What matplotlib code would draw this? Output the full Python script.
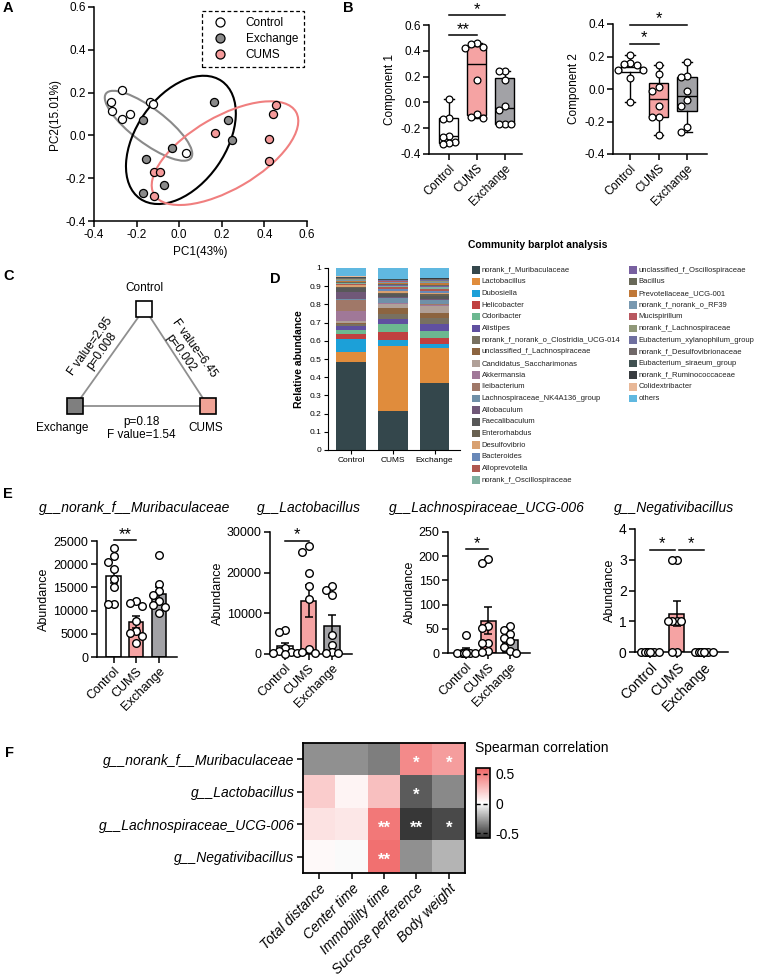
import numpy as np
import matplotlib
matplotlib.use("Agg")
import matplotlib.pyplot as plt
from matplotlib.patches import Ellipse, Rectangle
from matplotlib.lines import Line2D
from matplotlib.colors import LinearSegmentedColormap
from matplotlib.ticker import FormatStrFormatter

plt.rcParams['font.family'] = ['Liberation Sans', 'DejaVu Sans']
plt.rcParams['axes.unicode_minus'] = False

# =====================
# 数据
# =====================
groups = ["Control", "CUMS", "Exchange"]
group_colors = ["white", "#f5a3a3", "#a2a2a6"]

# A: PCA
pca_ctrl_x = [-0.268, -0.318, -0.315, -0.268, -0.229, -0.135, -0.125, 0.03]
pca_ctrl_y = [0.21, 0.155, 0.115, 0.076, 0.10, 0.155, 0.146, -0.08]
pca_exch_x = [-0.172, -0.033, -0.154, -0.072, -0.169, 0.164, 0.228, 0.247]
pca_exch_y = [0.07, -0.057, -0.11, -0.233, -0.267, 0.157, 0.07, -0.021]
pca_cums_x = [-0.119, -0.091, -0.117, 0.168, 0.454, 0.44, 0.42, 0.42]
pca_cums_y = [-0.17, -0.172, -0.283, 0.013, 0.14, 0.10, -0.018, -0.119]
# 椭圆: 中心x, 中心y, 宽, 高, 角度
ell_ctrl = [-0.144, 0.045, 0.50, 0.16, -37]
ell_exch = [0.008, -0.021, 0.67, 0.42, 55]
ell_cums = [0.215, -0.083, 0.77, 0.34, 30]

# B: component 1 / 2
comp1_ctrl = [0.03, -0.12, -0.125, -0.26, -0.265, -0.31, -0.315, -0.32]
comp1_cums = [0.46, 0.45, 0.43, 0.42, 0.17, -0.09, -0.11, -0.12]
comp1_exch = [0.245, 0.24, 0.17, -0.03, -0.06, -0.165, -0.17, -0.17]
comp2_ctrl = [0.21, 0.16, 0.155, 0.15, 0.12, 0.12, 0.07, -0.08]
comp2_cums = [0.145, 0.095, 0.015, -0.015, -0.105, -0.17, -0.175, -0.28]
comp2_exch = [0.165, 0.08, 0.075, -0.015, -0.065, -0.105, -0.235, -0.265]

# C: anosim
anosim_left = ["F value=2.95", "p=0.008"]
anosim_right = ["F value=6.45", "p=0.002"]
anosim_bottom = ["p=0.18", "F value=1.54"]

# D: community barplot
taxa = ["norank_f_Muribaculaceae", "Lactobacillus", "Dubosiella", "Helicobacter",
        "Odoribacter", "Alistipes", "norank_f_norank_o_Clostridia_UCG-014",
        "unclassified_f_Lachnospiraceae", "Candidatus_Saccharimonas", "Akkermansia",
        "Ileibacterium", "Lachnospiraceae_NK4A136_group", "Allobaculum", "Faecalibaculum",
        "Enterorhabdus", "Desulfovibrio", "Bacteroides", "Alloprevotella",
        "norank_f_Oscillospiraceae", "unclassified_f_Oscillospiraceae", "Bacillus",
        "Prevotellaceae_UCG-001", "norank_f_norank_o_RF39", "Mucispirillum",
        "norank_f_Lachnospiraceae", "Eubacterium_xylanophilum_group",
        "norank_f_Desulfovibrionaceae", "Eubacterium_siraeum_group",
        "norank_f_Ruminococcaceae", "Colidextribacter", "others"]
taxa_colors = ["#34474c", "#e08c3c", "#1ca0d8", "#c04040", "#6cb890", "#6050a0",
               "#787060", "#8c6440", "#b0a098", "#a07898", "#a07868", "#7090a8",
               "#705878", "#585858", "#686050", "#d8a070", "#6888b8", "#b05850",
               "#80b0a0", "#7860a0", "#686858", "#c07838", "#7898b0", "#b85860",
               "#909878", "#7070a0", "#706868", "#405050", "#383c40", "#e8b898",
               "#60b8e0"]
abund_ctrl = [0.485, 0.055, 0.07, 0.03, 0.02, 0.02, 0.01, 0.01, 0.01, 0.055, 0.06,
              0.005, 0.04, 0.02, 0.008, 0.006, 0.004, 0.003, 0.004, 0.004, 0.003,
              0.006, 0.004, 0.003, 0.004, 0.003, 0.004, 0.003, 0.003, 0.003, 0.045]
abund_cums = [0.215, 0.355, 0.035, 0.045, 0.04, 0.03, 0.03, 0.03, 0.02, 0.005, 0.005,
              0.025, 0.005, 0.015, 0.01, 0.01, 0.01, 0.008, 0.007, 0.008, 0.005,
              0.005, 0.005, 0.003, 0.004, 0.003, 0.002, 0.002, 0.002, 0.001, 0.06]
abund_exch = [0.37, 0.19, 0.025, 0.03, 0.04, 0.035, 0.035, 0.03, 0.035, 0.005, 0.005,
              0.025, 0.005, 0.015, 0.01, 0.01, 0.01, 0.01, 0.008, 0.008, 0.008,
              0.006, 0.006, 0.004, 0.005, 0.004, 0.003, 0.003, 0.003, 0.002, 0.055]

# E: abundance
murib_ctrl = [23400, 21800, 20500, 19000, 16800, 15100, 11500, 11500]
murib_cums = [12100, 11700, 11000, 7800, 5500, 5200, 4500, 3000]
murib_exch = [22000, 15700, 14200, 13300, 12000, 11200, 10800, 9500]
lacto_ctrl = [6000, 5500, 1500, 800, 500, 300, 200, 100]
lacto_cums = [26600, 25000, 20000, 16600, 13500, 1200, 600, 300]
lacto_exch = [16600, 15800, 14600, 4700, 2300, 500, 300, 200]
lachno_ctrl = [37, 2, 1, 0, 0, 0, 0, 0]
lachno_cums = [195, 185, 55, 52, 20, 20, 5, 3]
lachno_exch = [55, 48, 40, 30, 25, 12, 5, 0]
negat_ctrl = [0, 0, 0, 0, 0, 0, 0, 0]
negat_cums = [3, 3, 1, 1, 1, 1, 0, 0]
negat_exch = [0, 0, 0, 0, 0, 0, 0, 0]

# F: spearman
heat_rows = ["g__norank_f__Muribaculaceae", "g__Lactobacillus",
             "g__Lachnospiraceae_UCG-006", "g__Negativibacillus"]
heat_cols = ["Total distance", "Center time", "Immobility time",
             "Sucrose perference", "Body weight"]
corr_vals = [[-0.30, -0.30, -0.35, 0.45, 0.38],
             [0.20, 0.05, 0.25, -0.45, -0.32],
             [0.12, 0.10, 0.52, -0.55, -0.50],
             [0.03, 0.00, 0.55, -0.30, -0.20]]
corr_sig = [["", "", "", "*", "*"],
            ["", "", "", "*", ""],
            ["", "", "**", "**", "*"],
            ["", "", "**", "", ""]]

# =====================
# 画布
# =====================
W, H = 765, 977
fig = plt.figure(figsize=(W / 100, H / 100), dpi=100)


def px_axes(l, t, r, b):
    return fig.add_axes([l / W, 1 - b / H, (r - l) / W, (b - t) / H])


def prism(ax, fs=8.5):
    ax.spines['top'].set_visible(False)
    ax.spines['right'].set_visible(False)
    ax.spines['left'].set_linewidth(1.1)
    ax.spines['bottom'].set_linewidth(1.1)
    ax.tick_params(direction='out', length=4, width=1.1, labelsize=fs, pad=2)


def swarm(vals, dy, dx, nmax=2, maxw=None):
    vals = np.asarray(vals, float)
    cands = [0.0]
    for k in range(1, nmax + 1):
        cands += [-k * dx, k * dx]
    xs = np.zeros(len(vals))
    placed = []
    for j, i in enumerate(np.argsort(-vals, kind='stable')):
        v = vals[i]
        best = None
        for c in cands:
            if all(abs(c - px) >= dx * 0.95 or abs(v - py) >= dy for px, py in placed):
                best = c
                break
        if best is None:
            best = ((j % 5) - 2) * dx * 0.55
        xs[i] = best
        placed.append((best, v))
    if maxw is not None and np.abs(xs).max() > maxw:
        xs = xs * maxw / np.abs(xs).max()
    return xs


def sig(ax, x0, x1, y, text, fs=12):
    ax.plot([x0, x1], [y, y], color='k', lw=1.1, clip_on=False)
    ax.annotate(text, ((x0 + x1) / 2, y), xytext=(0, 1), textcoords='offset points',
                ha='center', va='baseline', fontsize=fs, annotation_clip=False)


# =====================
# A
# =====================
axA = px_axes(94, 7, 307, 221)
prism(axA, 8.5)
for e, col in zip([ell_ctrl, ell_exch, ell_cums], ["#8a8a8a", "black", "#f07f7f"]):
    axA.add_patch(Ellipse((e[0], e[1]), e[2], e[3], angle=e[4], fill=False,
                          edgecolor=col, lw=1.5))
axA.scatter(pca_ctrl_x, pca_ctrl_y, s=34, c="white", edgecolors="k", lw=0.9, zorder=3)
axA.scatter(pca_exch_x, pca_exch_y, s=34, c="#8a8a8a", edgecolors="k", lw=0.9, zorder=3)
axA.scatter(pca_cums_x, pca_cums_y, s=34, c="#f59a9a", edgecolors="k", lw=0.9, zorder=3)
axA.set_xlim(-0.4, 0.6)
axA.set_ylim(-0.4, 0.6)
axA.set_xticks([-0.4, -0.2, 0.0, 0.2, 0.4, 0.6])
axA.set_yticks([-0.4, -0.2, 0.0, 0.2, 0.4, 0.6])
axA.xaxis.set_major_formatter(FormatStrFormatter('%.1f'))
axA.yaxis.set_major_formatter(FormatStrFormatter('%.1f'))
axA.set_xlabel("PC1(43%)", fontsize=8.5, labelpad=3)
axA.set_ylabel("PC2(15.01%)", fontsize=8.5, labelpad=3)
hA = [Line2D([], [], ls='', marker='o', ms=6.5, mfc=c, mec='k', mew=0.9)
      for c in ["white", "#8a8a8a", "#f59a9a"]]
legA = axA.legend(hA, ["Control", "Exchange", "CUMS"], loc='upper right',
                  bbox_to_anchor=(0.985, 0.98), fontsize=8.5, fancybox=False,
                  edgecolor='k', framealpha=1, labelspacing=0.35, handletextpad=1.2,
                  borderpad=0.5, borderaxespad=0)
legA.get_frame().set_linestyle((0, (3, 2)))
legA.get_frame().set_linewidth(0.9)

# =====================
# B
# =====================
def box_panel(ax, data, ylim, yticks, ylabel, xlim):
    prism(ax, 8.5)
    bp = ax.boxplot(data, positions=[0, 1, 2], widths=0.68, whis=(0, 100),
                    patch_artist=True, showfliers=False,
                    medianprops=dict(color='k', lw=1.0),
                    whiskerprops=dict(color='k', lw=1.0),
                    capprops=dict(color='k', lw=1.0),
                    boxprops=dict(edgecolor='k', lw=1.0))
    for p, c in zip(bp['boxes'], group_colors):
        p.set_facecolor(c)
    dy = (ylim[1] - ylim[0]) * 0.052
    for i, d in enumerate(data):
        xs = swarm(d, dy, 0.22) + i
        ax.scatter(xs, d, s=24, c='white', edgecolors='k', lw=0.9, zorder=4)
    ax.set_ylim(*ylim)
    ax.set_yticks(yticks)
    ax.yaxis.set_major_formatter(FormatStrFormatter('%.1f'))
    ax.set_xlim(*xlim)
    ax.set_xticks([0, 1, 2])
    ax.set_xticklabels(groups, rotation=45, ha='right', rotation_mode='anchor')
    ax.set_ylabel(ylabel, fontsize=8.5, labelpad=3)


axB1 = px_axes(429, 25, 522, 154)
box_panel(axB1, [comp1_ctrl, comp1_cums, comp1_exch], (-0.4, 0.6),
          [-0.4, -0.2, 0.0, 0.2, 0.4, 0.6], "Component 1", (-0.71, 2.61))
sig(axB1, 0, 1, 0.52, "**")
sig(axB1, 0, 2, 0.677, "*")

axB2 = px_axes(613, 24, 707, 154)
box_panel(axB2, [comp2_ctrl, comp2_cums, comp2_exch], (-0.4, 0.4),
          [-0.4, -0.2, 0.0, 0.2, 0.4], "Component 2", (-0.61, 2.71))
sig(axB2, 0, 1, 0.279, "*")
sig(axB2, 0, 2, 0.396, "*")

# =====================
# D
# =====================
axD = px_axes(328, 268, 460, 450)
axD.spines['top'].set_visible(False)
axD.spines['right'].set_visible(False)
axD.spines['left'].set_linewidth(0.8)
axD.spines['bottom'].set_linewidth(0.8)
bottoms = np.zeros(3)
stack = np.array([abund_ctrl, abund_cums, abund_exch])
for k in range(len(taxa)):
    axD.bar([0, 1, 2], stack[:, k], width=0.71, bottom=bottoms, color=taxa_colors[k])
    bottoms += stack[:, k]
axD.set_xlim(-0.55, 2.61)
axD.set_ylim(0, 1)
axD.set_yticks(np.arange(0, 1.01, 0.1))
axD.set_yticklabels(["0"] + ["%.1f" % v for v in np.arange(0.1, 0.95, 0.1)] + ["1"])
axD.set_xticks([0, 1, 2])
axD.set_xticklabels(groups)
axD.tick_params(labelsize=6, length=3, width=0.8, pad=2)
axD.set_ylabel("Relative abundance", fontsize=7.5, fontweight='bold', labelpad=4)

# =====================
# E
# =====================
def bar_panel(ax, data, ymax, yticks, xlim, width, maxw=None):
    prism(ax, 9)
    means = [np.mean(d) for d in data]
    sems = [np.std(d, ddof=1) / np.sqrt(len(d)) for d in data]
    ax.bar([0, 1, 2], means, width=width, color=group_colors, edgecolor='k', lw=1.1,
           zorder=2)
    ax.errorbar([0, 1, 2], means, yerr=sems, fmt='none', ecolor='k', elinewidth=1.1,
                capsize=3, capthick=1.1, zorder=3)
    dy = ymax * 0.058
    for i, d in enumerate(data):
        xs = swarm(d, dy, 0.26, maxw=maxw) + i
        ax.scatter(xs, d, s=30, c='white', edgecolors='k', lw=1.0, zorder=4,
                   clip_on=False)
    ax.set_ylim(0, ymax)
    ax.set_yticks(yticks)
    ax.spines['left'].set_bounds(0, ymax)
    ax.set_xlim(*xlim)
    ax.set_xticks([0, 1, 2])
    ax.set_xticklabels(groups, rotation=45, ha='right', rotation_mode='anchor',
                       fontsize=9)
    ax.set_ylabel("Abundance", fontsize=9, labelpad=2)


axE1 = px_axes(96.5, 541, 177, 657)
bar_panel(axE1, [murib_ctrl, murib_cums, murib_exch], 25000,
          [0, 5000, 10000, 15000, 20000, 25000], (-0.75, 2.8), 0.63)
sig(axE1, 0, 1, 25200, "**")

axE2 = px_axes(270, 532, 352, 654)
bar_panel(axE2, [lacto_ctrl, lacto_cums, lacto_exch], 30000,
          [0, 10000, 20000, 30000], (-0.64, 2.85), 0.66)
sig(axE2, 0, 1, 27860, "*")

axE3 = px_axes(448, 532, 530, 653)
bar_panel(axE3, [lachno_ctrl, lachno_cums, lachno_exch], 250,
          [0, 50, 100, 150, 200, 250], (-0.82, 2.9), 0.68, maxw=0.4)
sig(axE3, 0, 1, 214, "*")

axE4 = px_axes(635, 529, 728, 652)
bar_panel(axE4, [negat_ctrl, negat_cums, negat_exch], 4,
          [0, 1, 2, 3, 4], (-0.56, 2.9), 0.56, maxw=0.33)
axE4.tick_params(labelsize=10)
sig(axE4, 0, 0.92, 3.33, "*")
sig(axE4, 1.08, 2, 3.33, "*")

# =====================
# F
# =====================
heat_cmap = LinearSegmentedColormap.from_list("sp", ["#2e2e2e", "#ffffff", "#f06464"])
axF = px_axes(303, 743, 465, 873)
imF = axF.imshow(np.array(corr_vals), cmap=heat_cmap, vmin=-0.58, vmax=0.6,
                 aspect='auto')
for i in range(len(heat_rows)):
    for j in range(len(heat_cols)):
        if corr_sig[i][j]:
            axF.text(j, i + 0.12, corr_sig[i][j], ha='center', va='center',
                     color='white', fontsize=12, fontweight='bold')
axF.set_xticks(range(len(heat_cols)))
axF.set_xticklabels(heat_cols, rotation=45, ha='right', rotation_mode='anchor',
                    style='italic', fontsize=10)
axF.set_yticks(range(len(heat_rows)))
axF.set_yticklabels(heat_rows, style='italic', fontsize=10)
axF.tick_params(length=4, width=1.1, pad=2)
for s in axF.spines.values():
    s.set_linewidth(1.3)

caxF = px_axes(476, 768, 490, 838)
cb = fig.colorbar(imF, cax=caxF, ticks=[-0.5, 0, 0.5])
cb.ax.set_yticklabels(["-0.5", "0", "0.5"])
cb.ax.tick_params(labelsize=10, length=0, pad=4)
cb.outline.set_linewidth(1.2)
for v in [-0.5, 0, 0.5]:
    cb.ax.axhline(v, color='k', lw=1.0, ls=(0, (3, 2)))

# =====================
# 文字层: 面板字母, C, D 图例, E 标题
# =====================
ov = fig.add_axes([0, 0, 1, 1], zorder=10)
ov.set_xlim(0, W)
ov.set_ylim(H, 0)
ov.axis('off')

for lab, x, y in [("A", 3, 8), ("B", 343, 8), ("C", 3, 276), ("D", 270, 279),
                  ("E", 3, 494), ("F", 5, 753)]:
    ov.text(x, y, lab, fontsize=10.5, fontweight='bold', va='center')

# C 三角形
sq_pos = {"Control": (144.5, 308.5), "Exchange": (75, 406), "CUMS": (208, 406)}
sq_col = {"Control": "white", "Exchange": "#7f7f7f", "CUMS": "#f0a396"}
tri = ["Control", "Exchange", "CUMS", "Control"]
ov.plot([sq_pos[n][0] for n in tri], [sq_pos[n][1] for n in tri], color="#8f8f8f",
        lw=1.3, zorder=1)
for n, (x, y) in sq_pos.items():
    ov.add_patch(Rectangle((x - 8, y - 8), 16, 16, facecolor=sq_col[n], edgecolor='k',
                           lw=1.2, zorder=2))
ov.text(144.5, 288, "Control", ha='center', va='center', fontsize=8.5)
ov.text(62, 428, "Exchange", ha='center', va='center', fontsize=8.5)
ov.text(206, 428, "CUMS", ha='center', va='center', fontsize=8.5)
ov.text(90, 346, anosim_left[0], rotation=54.5, ha='center', va='center', fontsize=8.5)
ov.text(102, 351, anosim_left[1], rotation=54.5, ha='center', va='center', fontsize=8.5)
ov.text(194, 348, anosim_right[0], rotation=-54.5, ha='center', va='center', fontsize=8.5)
ov.text(181, 353, anosim_right[1], rotation=-54.5, ha='center', va='center', fontsize=8.5)
ov.text(141, 422, anosim_bottom[0], ha='center', va='center', fontsize=8.5)
ov.text(141, 435, anosim_bottom[1], ha='center', va='center', fontsize=8.5)

# D 标题与图例
ov.text(538, 245, "Community barplot analysis", ha='center', va='center',
        fontsize=7.5, fontweight='bold')
for k, (name, col) in enumerate(zip(taxa, taxa_colors)):
    if k < 19:
        x0, y0 = 472, 270 + k * 11.67
    else:
        x0, y0 = 629, 270 + (k - 19) * 11.67
    ov.add_patch(Rectangle((x0, y0 - 3.8), 7.6, 7.6, facecolor=col, edgecolor='none'))
    ov.text(x0 + 9.5, y0, name, va='center', fontsize=5.5, color='#222222')

# E 标题
for t, x in [("g__norank_f__Muribaculaceae", 135), ("g__Lactobacillus", 309),
             ("g__Lachnospiraceae_UCG-006", 487), ("g__Negativibacillus", 674)]:
    ov.text(x, 508, t, ha='center', va='center', fontsize=10, style='italic')

ov.text(475, 748, "Spearman correlation", ha='left', va='center', fontsize=10)

fig.savefig("out.png", dpi=100)
